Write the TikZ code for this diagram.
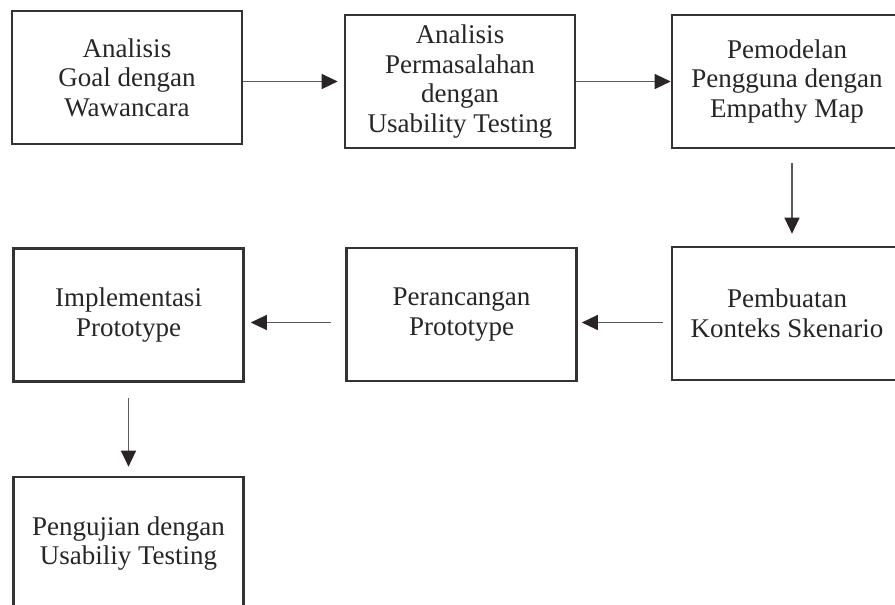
\documentclass[tikz,border=0pt]{standalone}
\usepackage{fontspec}
\setmainfont{Liberation Serif}
\usetikzlibrary{arrows.meta}
\definecolor{boxline}{HTML}{333333}
\definecolor{flowline}{HTML}{5A5A5A}
\definecolor{flowhead}{HTML}{2B2424}

\begin{document}
\begin{tikzpicture}[x=1pt, y=-1pt,
        box/.style = {draw=boxline, line width=2.6pt, align=center,
            minimum width=230pt, minimum height=133pt, inner sep=0pt,
            font=\fontsize{27}{29.5}\selectfont, text=black!85},
        flow/.style = {draw=flowline, line width=1.2pt,
            -{Triangle[length=16pt, width=15pt, color=flowhead]}}]
        \useasboundingbox (0,0) rectangle (895,605);
        \clip (0,0) rectangle (895,605);
        \node[box] (anls) at (127,77.5) {Analisis\\Goal dengan\\Wawancara};
        \node[box] (perm) at (460,81.5) {Analisis\\Permasalahan\\dengan\\Usability Testing};
        \node[box] (empm) at (787,81.5) {Pemodelan\\Pengguna dengan\\Empathy Map};
        \node[box] (kont) at (787,313.5) {Pembuatan\\Konteks Skenario};
        \node[box] (ranc) at (461.5,314.5) {Perancangan\\Prototype};
        \node[box] (impl) at (128.5,315) {Implementasi\\Prototype};
        \node[box] (uji) at (128.5,543.5) {Pengujian dengan\\Usabiliy Testing};
        \draw[flow, shorten >=6pt] (perm.west -| anls.east) -- (perm.west);
        \draw[flow] (perm.east) -- (empm.west);
        \draw[flow, shorten <=14pt, shorten >=12pt] ([xshift=5pt]empm.south) -- ([xshift=5pt]kont.north);
        \draw[flow, shorten <=8pt, shorten >=4pt] ([yshift=-9pt]kont.west) -- ([yshift=-9pt]kont.west -| ranc.east);
        \draw[flow, shorten <=14pt, shorten >=6pt] ([yshift=-8pt]ranc.west) -- ([yshift=-8pt]ranc.west -| impl.east);
        \draw[flow, shorten <=15pt, shorten >=9pt] (impl.south) -- (uji.north);
    \end{tikzpicture}
\end{document}
